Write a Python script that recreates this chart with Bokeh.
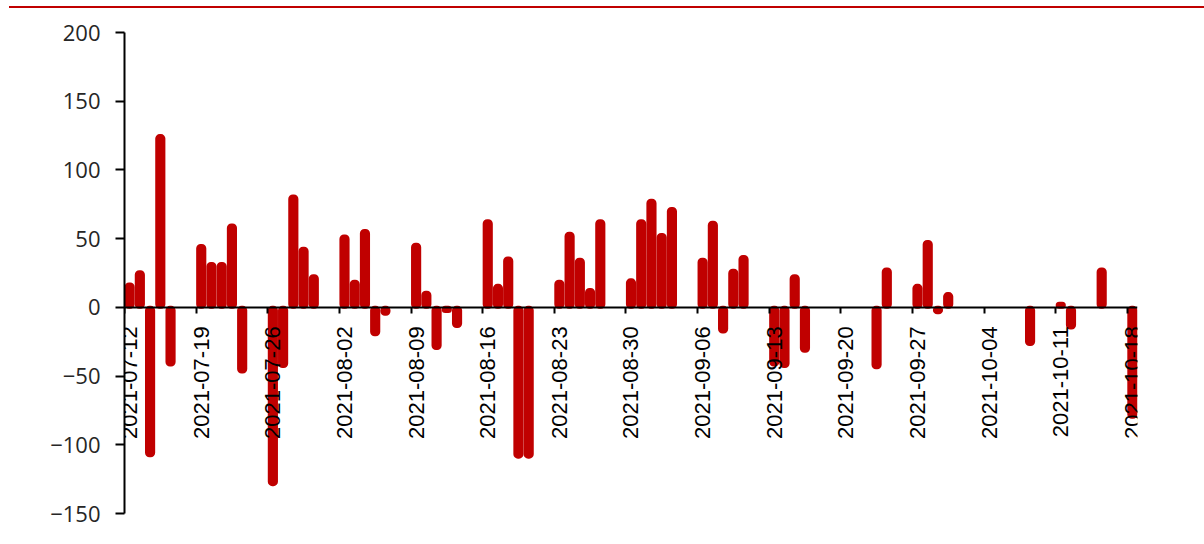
import math
import pandas as pd
from bokeh.plotting import figure
from bokeh.models import (Range1d, FixedTicker, DatetimeTickFormatter, ColumnDataSource,
                          DatetimeAxis, CustomJSTickFormatter, Div)
from bokeh.layouts import column
from bokeh.embed import file_html
from bokeh.resources import INLINE

dates = [
    "2021-07-12", "2021-07-13", "2021-07-14", "2021-07-15", "2021-07-16",
    "2021-07-19", "2021-07-20", "2021-07-21", "2021-07-22", "2021-07-23",
    "2021-07-26", "2021-07-27", "2021-07-28", "2021-07-29", "2021-07-30",
    "2021-08-02", "2021-08-03", "2021-08-04", "2021-08-05", "2021-08-06",
    "2021-08-09", "2021-08-10", "2021-08-11", "2021-08-12", "2021-08-13",
    "2021-08-16", "2021-08-17", "2021-08-18", "2021-08-19", "2021-08-20",
    "2021-08-23", "2021-08-24", "2021-08-25", "2021-08-26", "2021-08-27",
    "2021-08-30", "2021-08-31", "2021-09-01", "2021-09-02", "2021-09-03",
    "2021-09-06", "2021-09-07", "2021-09-08", "2021-09-09", "2021-09-10",
    "2021-09-13", "2021-09-14", "2021-09-15", "2021-09-16",
    "2021-09-23", "2021-09-24",
    "2021-09-27", "2021-09-28", "2021-09-29", "2021-09-30",
    "2021-10-08", "2021-10-11", "2021-10-12", "2021-10-15", "2021-10-18",
]
values = [
    17, 26, -108, 125, -42,
    45, 32, 32, 60, -47,
    -129, -43, 81, 43, 23,
    52, 19, 56, -20, -5,
    46, 11, -30, -3, -14,
    63, 16, 36, -109, -109,
    19, 54, 35, 13, 63,
    20, 63, 78, 53, 72,
    35, 62, -18, 27, 37,
    -42, -43, 23, -32,
    -44, 28,
    16, 48, -4, 10,
    -27, 3, -15, 28, -80,
]
tick_dates = [
    "2021-07-12", "2021-07-19", "2021-07-26", "2021-08-02", "2021-08-09",
    "2021-08-16", "2021-08-23", "2021-08-30", "2021-09-06", "2021-09-13",
    "2021-09-20", "2021-09-27", "2021-10-04", "2021-10-11", "2021-10-18",
]
y_ticks = [-150, -100, -50, 0, 50, 100, 150, 200]

RED = "#C00000"
DAY = pd.Timedelta(days=1)
LABEL_SHIFT = pd.Timedelta(hours=12)   # labels sit half a day right of their tick

d = pd.to_datetime(dates)
src = ColumnDataSource(dict(x=d + DAY / 2, top=values))

def ms(ts):
    return ts.value // 10**6

tick_ms = [ms(pd.Timestamp(t)) for t in tick_dates]
label_ms = [ms(pd.Timestamp(t) + LABEL_SHIFT) for t in tick_dates]

p = figure(
    width=1196, height=520,
    x_axis_type="datetime",
    x_range=Range1d(pd.Timestamp(dates[0]), pd.Timestamp(dates[-1]) + DAY),
    y_range=Range1d(-150, 200),
    output_backend="svg", toolbar_location=None,
    min_border_left=124, min_border_right=59,
    min_border_top=24, min_border_bottom=15,
)
p.outline_line_color = None
p.grid.visible = False
p.background_fill_color = "white"
p.border_fill_color = "white"

p.vbar(x="x", top="top", bottom=0, width=0.7 * 86400000, source=src,
       fill_color=RED, line_color=RED, line_width=3, line_join="round",
       border_radius=3)

yax = p.yaxis[0]
yax.ticker = FixedTicker(ticks=y_ticks)
yax.axis_line_color = "black"
yax.axis_line_width = 2
yax.major_tick_line_width = 2
yax.major_tick_in = 0
yax.major_tick_out = 9
yax.minor_tick_line_color = None
yax.major_label_standoff = 15
yax.major_label_text_font = "Open Sans"
yax.major_label_text_font_size = "22px"
yax.major_label_text_color = "#262626"

# axis line + tick marks at y = 0
xax = p.xaxis[0]
xax.fixed_location = 0
xax.ticker = FixedTicker(ticks=tick_ms)
xax.formatter = CustomJSTickFormatter(code="return ''")
xax.axis_line_color = "black"
xax.axis_line_width = 2
xax.major_tick_line_width = 2
xax.major_tick_in = 0
xax.major_tick_out = 6
xax.minor_tick_line_color = None

# date labels
fmt = "%Y-%m-%d"
lax = DatetimeAxis(
    fixed_location=0,
    ticker=FixedTicker(ticks=label_ms),
    formatter=DatetimeTickFormatter(
        milliseconds=fmt, seconds=fmt, minsec=fmt, minutes=fmt, hourmin=fmt,
        hours=fmt, days=fmt, months=fmt, years=fmt),
    axis_line_color=None, major_tick_line_color=None, minor_tick_line_color=None,
    major_tick_in=0, major_tick_out=6,
    major_label_orientation=math.pi / 2,
    major_label_standoff=13,
    major_label_text_font="Liberation Sans",
    major_label_text_font_size="22px",
    major_label_text_color="black",
)
p.add_layout(lax, "below")

# thin red header rule above the chart
rule = Div(text="", width=1195, height=2, margin=(6, 0, 0, 9),
           styles={"background-color": RED})

layout = column(rule, p, spacing=0)

with open("out.html", "w") as f:
    f.write(file_html(layout, INLINE))
